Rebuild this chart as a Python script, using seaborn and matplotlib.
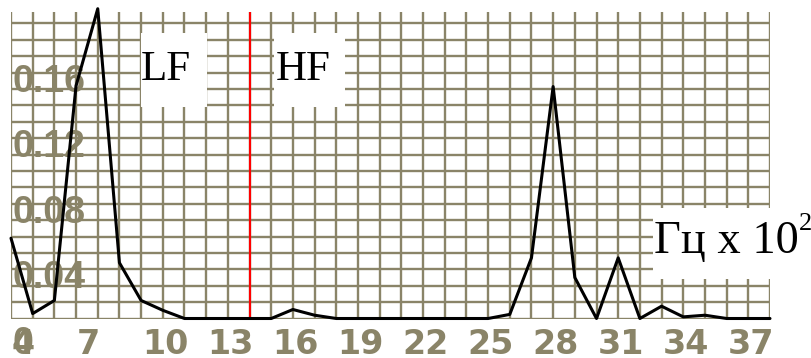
import numpy as np
import pandas as pd
import matplotlib
matplotlib.use("Agg")
import matplotlib.pyplot as plt
from matplotlib.patches import Rectangle
import seaborn as sns

# ---------------- data ----------------
freq = [4, 5, 6, 7, 8, 9, 10, 11, 12, 13, 14, 15, 16, 17, 18, 19, 20, 21,
        22, 23, 24, 25, 26, 27, 28, 29, 30, 31, 32, 33, 34, 35, 36, 37, 38, 39]
power = [0.049, 0.003, 0.011, 0.142, 0.189, 0.034, 0.011, 0.005, 0.0, 0.0,
         0.0, 0.0, 0.0, 0.0055, 0.002, 0.0, 0.0, 0.0, 0.0, 0.0, 0.0, 0.0,
         0.0, 0.0025, 0.037, 0.1415, 0.025, 0.0, 0.037, 0.0, 0.0075, 0.001,
         0.002, 0.0, 0.0, 0.0]
x_tick_values = [4, 7, 10, 13, 16, 19, 22, 25, 28, 31, 34, 37]
y_tick_values = [0.0, 0.04, 0.08, 0.12, 0.16]
y_tick_labels = ["0", "0.04", "0.08", "0.12", "0.16"]
lf_hf_boundary = 15
band_labels = ["LF", "HF"]
unit_label = "Гц x 10"
unit_power = "2"

df = pd.DataFrame({"freq": freq, "power": power})

# ---------------- style ----------------
sns.set_style("white")
plt.rcParams["font.family"] = ["DejaVu Sans"]

W, H = 812, 358
GRID = "#8A8468"


def fx(px):
    return px / W


def fy(py):
    return 1 - py / H


x_min, x_max = 4, 39
y_top = 0.187
left_px, right_px, top_px, zero_px = 11, 770, 12, 318.5

fig = plt.figure(figsize=(W / 100, H / 100), dpi=100)
fig.patch.set_facecolor("white")
ax = fig.add_axes([fx(left_px), fy(zero_px), (right_px - left_px) / W,
                   (zero_px - top_px) / H])
ax.set_xlim(x_min, x_max)
ax.set_ylim(0, y_top)
ax.set_axis_off()

# grid
ax.vlines(np.arange(x_min, x_max + 1), 0, y_top, colors=GRID,
          linewidth=1.7, zorder=1)
ax.hlines(np.arange(0, 0.1801, 0.01), x_min, x_max, colors=GRID,
          linewidth=1.7, zorder=1)

# LF / HF boundary
ax.vlines([lf_hf_boundary], 0, y_top, colors="#FF0000", linewidth=1.5,
          zorder=5)

# tick labels (drawn inside the grid, like the original)
for v in x_tick_values:
    ax.annotate(str(v), xy=(v, 0), xytext=(1, -35.5),
                textcoords="offset pixels", ha="left", va="baseline",
                fontsize=24, fontweight="bold", family=["DejaVu Sans"],
                color=GRID, annotation_clip=False, zorder=2)
for v, lab in zip(y_tick_values, y_tick_labels):
    ax.annotate(lab, xy=(x_min, v), xytext=(2, -35.5),
                textcoords="offset pixels", ha="left", va="baseline",
                fontsize=27, fontweight="bold",
                family=["Liberation Sans", "DejaVu Sans"],
                color=GRID, annotation_clip=False, zorder=2)

# white label boxes
boxes = [(141, 33, 207, 107), (274, 33, 345, 107), (653, 208, 812, 279)]
for x0, y0, x1, y1 in boxes:
    ax.add_patch(Rectangle((fx(x0), fy(y1)), (x1 - x0) / W, (y1 - y0) / H,
                           transform=fig.transFigure, facecolor="white",
                           edgecolor="none", clip_on=False, zorder=3))

serif = ["Liberation Serif", "DejaVu Serif"]
ax.text(fx(141), fy(80), band_labels[0], transform=fig.transFigure,
        ha="left", va="baseline", fontsize=31, family=serif, color="black",
        zorder=4)
ax.text(fx(275.5), fy(80), band_labels[1], transform=fig.transFigure,
        ha="left", va="baseline", fontsize=31, family=serif, color="black",
        zorder=4)
ax.text(fx(654), fy(253), unit_label, transform=fig.transFigure,
        ha="left", va="baseline", fontsize=33.5, family=serif, color="black",
        zorder=4)
ax.text(fx(799), fy(230), unit_power, transform=fig.transFigure,
        ha="left", va="baseline", fontsize=19, family=serif, color="black",
        zorder=4)

# spectrum line
sns.lineplot(data=df, x="freq", y="power", color="black", linewidth=2.2,
             ax=ax, zorder=6, clip_on=False, legend=False)
ax.set_axis_off()

fig.savefig("out.png", dpi=100)
